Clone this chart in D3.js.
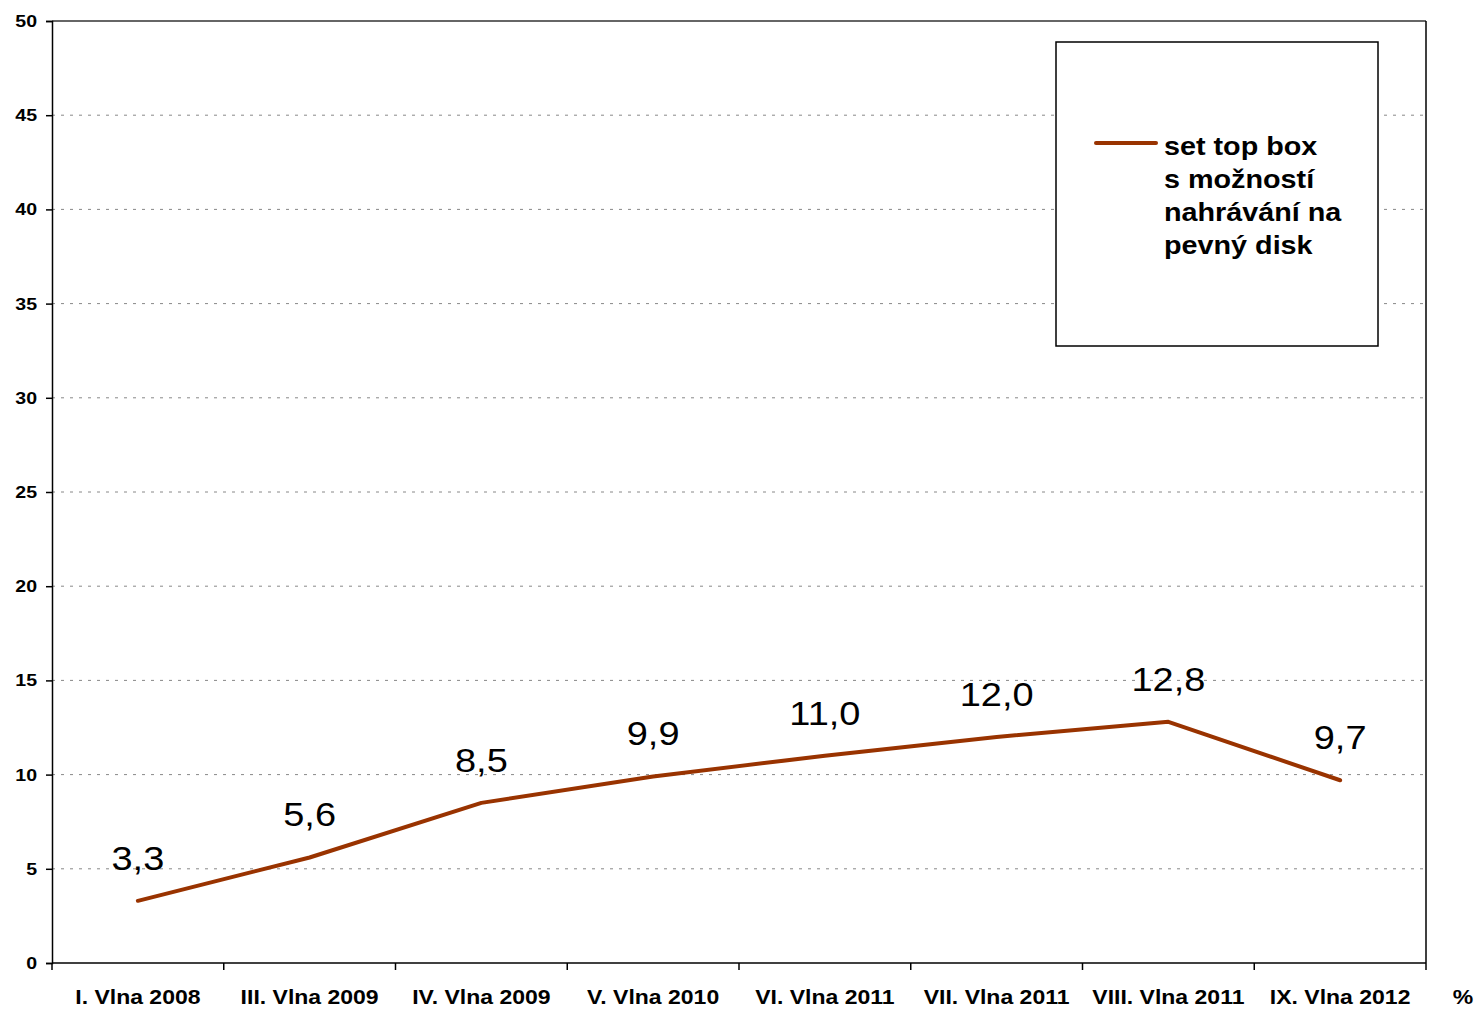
<!DOCTYPE html>
<html>
<head>
<meta charset="utf-8">
<script src="https://cdn.jsdelivr.net/npm/d3@7"></script>
<style>
body { margin:0; background:#fff; }
text { font-family: "Liberation Sans", Arial, sans-serif; }
</style>
</head>
<body>
<div id="chart-area"></div>
<script>
var categories = ["I. Vlna 2008","III. Vlna 2009","IV. Vlna 2009","V. Vlna 2010","VI. Vlna 2011","VII. Vlna 2011","VIII. Vlna 2011","IX. Vlna 2012"];
var values = [3.3, 5.6, 8.5, 9.9, 11.0, 12.0, 12.8, 9.7];
var yTicks = [0,5,10,15,20,25,30,35,40,45,50];
var seriesName = ["set top box","s možností","nahrávání na","pevný disk"];

var margin = {left:52, right:51, top:21, bottom:46};
var width = 1477 - margin.left - margin.right;
var height = 1009 - margin.top - margin.bottom;
var lineColor = "#993300";
var stretch = 1.15; // text in the original is a bit wider than Arial

function place(x, y) { return "translate("+x+","+y+") scale("+stretch+",1)"; }

var svg = d3.select("#chart-area").append("svg")
	.attr("width",1477)
	.attr("height",1009);
var g = svg.append("g")
	.attr("transform","translate("+margin.left+","+margin.top+")");

var x = d3.scaleBand().domain(categories).range([0,width]);
var y = d3.scaleLinear().domain([0,50]).range([height,0]);

// gridlines
g.selectAll(".grid").data(yTicks.filter(function(d){ return d>0 && d<50; }))
	.enter().append("line")
		.attr("x1",0).attr("x2",width)
		.attr("y1",function(d){ return y(d); })
		.attr("y2",function(d){ return y(d); })
		.attr("stroke","#888")
		.attr("stroke-width",1)
		.attr("stroke-dasharray","3,6");

// top and right border
g.append("line").attr("x1",0).attr("x2",width).attr("y1",0).attr("y2",0)
	.attr("stroke","#333").attr("stroke-width",1.5);
g.append("line").attr("x1",width).attr("x2",width).attr("y1",0).attr("y2",height)
	.attr("stroke","#000").attr("stroke-width",1.5);

// y axis
var yAxis = g.append("g").call(d3.axisLeft(y).tickValues(yTicks).tickSize(6).tickFormat(""));
yAxis.select(".domain").attr("stroke","#000").attr("stroke-width",1.5);
yAxis.selectAll(".tick line").attr("stroke","#000").attr("stroke-width",1.5);
g.selectAll(".ylab").data(yTicks).enter().append("text")
	.attr("transform",function(d){ return place(-15, y(d)+6); })
	.attr("text-anchor","end")
	.attr("font-size","17px")
	.attr("font-weight","bold")
	.text(function(d){ return d; });

// x axis: ticks at band boundaries
var xAxis = g.append("g").attr("transform","translate(0,"+height+")");
xAxis.append("line").attr("x1",0).attr("x2",width).attr("stroke","#000").attr("stroke-width",1.5);
var bounds = categories.map(function(c){ return x(c); }).concat([width]);
xAxis.selectAll(".xt").data(bounds).enter().append("line")
	.attr("x1",function(d){ return d; }).attr("x2",function(d){ return d; })
	.attr("y1",0).attr("y2",7)
	.attr("stroke","#000").attr("stroke-width",1.5);
xAxis.selectAll(".xl").data(categories).enter().append("text")
	.attr("transform",function(d){ return place(x(d)+x.bandwidth()/2, 41); })
	.attr("text-anchor","middle")
	.attr("font-size","20px")
	.attr("font-weight","bold")
	.text(function(d){ return d; });

svg.append("text").attr("transform",place(1463,1004)).attr("text-anchor","middle")
	.attr("font-size","20px").attr("font-weight","bold").text("%");

// line
var line = d3.line()
	.x(function(d,i){ return x(categories[i])+x.bandwidth()/2; })
	.y(function(d){ return y(d); });
g.append("path").datum(values)
	.attr("d",line)
	.attr("fill","none")
	.attr("stroke",lineColor)
	.attr("stroke-width",4)
	.attr("stroke-linecap","round")
	.attr("stroke-linejoin","round");

// value labels
g.selectAll(".val").data(values).enter().append("text")
	.attr("transform",function(d,i){ return place(x(categories[i])+x.bandwidth()/2, y(d)-31); })
	.attr("text-anchor","middle")
	.attr("font-size","33px")
	.text(function(d){ return d3.format(".1f")(d).replace(".",","); });

// legend
var lg = svg.append("g");
lg.append("rect").attr("x",1056).attr("y",42).attr("width",322).attr("height",304)
	.attr("fill","#fff").attr("stroke","#000").attr("stroke-width",1.5);
lg.append("line").attr("x1",1096).attr("x2",1156).attr("y1",143).attr("y2",143)
	.attr("stroke",lineColor).attr("stroke-width",4).attr("stroke-linecap","round");
lg.selectAll(".lt").data(seriesName).enter().append("text")
	.attr("transform",function(d,i){ return place(1164, 155+i*33); })
	.attr("font-size","25px")
	.attr("font-weight","bold")
	.text(function(d){ return d; });
</script>
</body>
</html>
